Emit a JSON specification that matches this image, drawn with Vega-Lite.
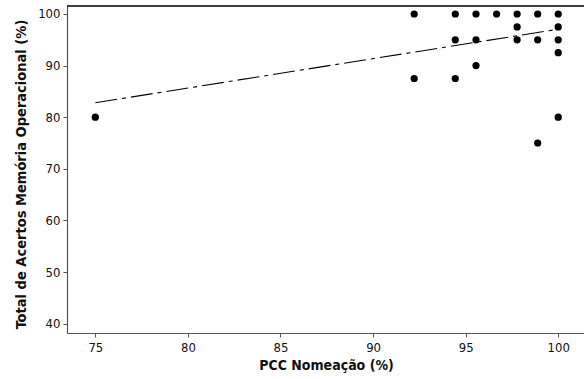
{
  "$schema": "https://vega.github.io/schema/vega-lite/v6.json",
  "width": 519,
  "height": 327,
  "autosize": {"type": "none"},
  "padding": {"left": 67, "top": 6, "right": 0, "bottom": 46},
  "background": "white",
  "config": {
    "view": {"stroke": null},
    "axis": {
      "grid": false,
      "domainColor": "#555555",
      "domainWidth": 1.2,
      "tickColor": "#555555",
      "tickSize": 4,
      "labelFont": "DejaVu Sans Condensed",
      "labelFontSize": 13,
      "labelColor": "#111111",
      "titleFont": "DejaVu Sans Condensed",
      "titleFontWeight": "bold",
      "titleColor": "#111111"
    }
  },
  "datasets": {
    "points": [
      {"pcc": 75, "total": 80},
      {"pcc": 92.22, "total": 100}, {"pcc": 92.22, "total": 87.5},
      {"pcc": 94.44, "total": 100}, {"pcc": 94.44, "total": 95}, {"pcc": 94.44, "total": 87.5},
      {"pcc": 95.56, "total": 100}, {"pcc": 95.56, "total": 95}, {"pcc": 95.56, "total": 90},
      {"pcc": 96.67, "total": 100},
      {"pcc": 97.78, "total": 100}, {"pcc": 97.78, "total": 97.5}, {"pcc": 97.78, "total": 95},
      {"pcc": 98.89, "total": 100}, {"pcc": 98.89, "total": 95}, {"pcc": 98.89, "total": 75},
      {"pcc": 100, "total": 100}, {"pcc": 100, "total": 97.5}, {"pcc": 100, "total": 95}, {"pcc": 100, "total": 92.5}, {"pcc": 100, "total": 80}
    ],
    "fit": [
      {"pcc": 75, "total": 82.8},
      {"pcc": 100, "total": 97.05}
    ]
  },
  "layer": [
    {
      "data": {"values": [{}]},
      "mark": {"type": "rule", "stroke": "#000000", "strokeWidth": 1.5},
      "encoding": {
        "x": {"datum": 73.47, "type": "quantitative"},
        "x2": {"datum": 101.5},
        "y": {"datum": 101.55, "type": "quantitative"}
      }
    },
    {
      "data": {"name": "fit"},
      "mark": {"type": "line", "color": "#000000", "strokeWidth": 1.1, "strokeDash": [22, 5, 4, 5]},
      "encoding": {
        "x": {"field": "pcc", "type": "quantitative"},
        "y": {"field": "total", "type": "quantitative"}
      }
    },
    {
      "data": {"name": "points"},
      "mark": {"type": "point", "filled": true, "color": "#000000", "opacity": 1, "size": 52},
      "encoding": {
        "x": {
          "field": "pcc", "type": "quantitative",
          "scale": {"domain": [73.47, 101.5], "nice": false, "zero": false},
          "axis": {
            "values": [75, 80, 85, 90, 95, 100],
            "title": "PCC Nomeação (%)",
            "titleFontSize": 14,
            "labelPadding": 4,
            "titleX": 259,
            "titleY": 25,
            "titleBaseline": "top",
            "titleAlign": "center",
            "titleAnchor": null
          }
        },
        "y": {
          "field": "total", "type": "quantitative",
          "scale": {"domain": [38.18, 101.55], "nice": false, "zero": false},
          "axis": {
            "values": [40, 50, 60, 70, 80, 90, 100],
            "title": "Total de Acertos Memória Operacional (%)",
            "titleFontSize": 14.5,
            "labelPadding": 3,
            "titleX": -46,
            "titleY": 168,
            "titleBaseline": "middle",
            "titleAlign": "center",
            "titleAngle": -90
          }
        }
      }
    }
  ]
}
